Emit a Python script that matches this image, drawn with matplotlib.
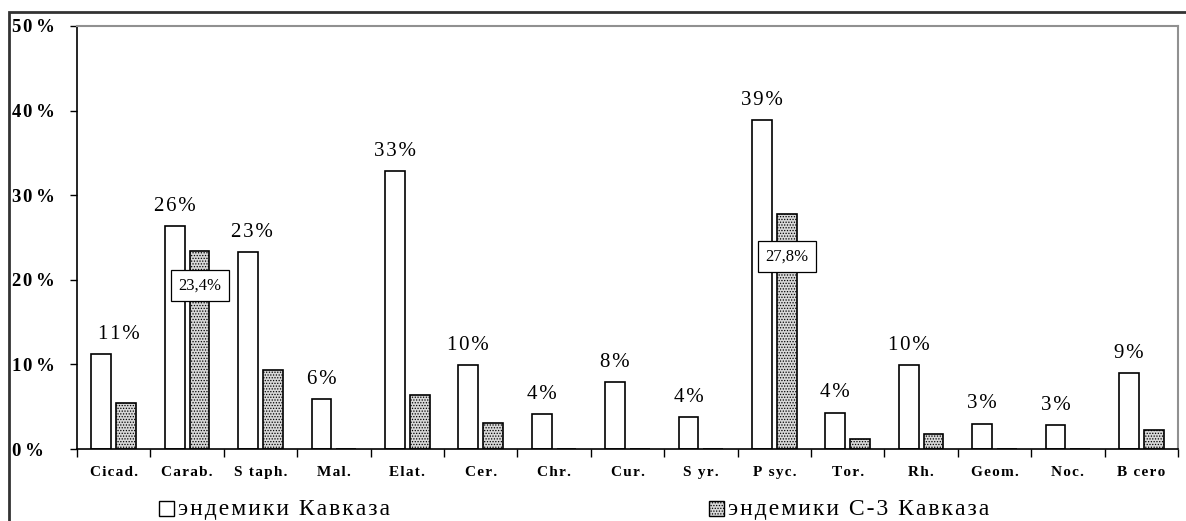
import numpy as np
import matplotlib.pyplot as plt
from matplotlib.patches import Rectangle

plt.rcParams['font.family'] = ['Liberation Serif', 'DejaVu Serif']
plt.rcParams['hatch.color'] = '#808080'
plt.rcParams['hatch.linewidth'] = 0.6

# Data
categories = ['Cicad.', 'Carab.', 'S taph.', 'Mal.', 'Elat.', 'Cer.', 'Chr.', 'Cur.',
              'S yr.', 'P syc.', 'Tor.', 'Rh.', 'Geom.', 'Noc.', 'B cero']
caucasus = [11.2, 26.4, 23.3, 5.9, 32.9, 9.9, 4.1, 7.9, 3.8, 38.9, 4.3, 9.9, 3.0, 2.8, 9.0]
nw_caucasus = [5.4, 23.4, 9.3, 0, 6.4, 3.1, 0, 0, 0, 27.8, 1.2, 1.8, 0, 0, 2.2]
top_labels = ['11%', '26%', '23%', '6%', '33%', '10%', '4%', '8%', '4%', '39%',
              '4%', '10%', '3%', '3%', '9%']
box_labels = {1: ('23,4%', 19.3), 9: ('27,8%', 22.7)}
yticks = [0, 10, 20, 30, 40, 50]
legend_names = ['эндемики Кавказа', 'эндемики С-3 Кавказа']

HAIR = '\u200a'


def spaced(s, sep=HAIR):
    # imitate the wide letter spacing of the original
    return sep.join(s)


fig = plt.figure(figsize=(11.86, 5.21), dpi=100)
# outer frame
fig.patches.append(Rectangle((9 / 1186, -0.1), 1.2, 1 - 12 / 521 + 0.1,
                             transform=fig.transFigure, fill=False,
                             edgecolor='#333333', linewidth=2.0))

ax = fig.add_axes([77 / 1186, 1 - 449 / 521, 1101 / 1186, 423 / 521])

x = np.arange(len(categories))
w = 0.27
gap = 0.035
ax.bar(x - w / 2 - gap, caucasus, w, color='white', edgecolor='black', linewidth=1.2)
ax.bar(x + w / 2 + gap, nw_caucasus, w, color='#d8d8d8', edgecolor='black',
       linewidth=1.2, hatch='......')

# label nudges (the first label sits a bit to the right in the original)
nudge = {0: 0.24, 2: 0.06}
for i, t in enumerate(top_labels):
    ax.text(x[i] - w / 2 - gap + nudge.get(i, 0), caucasus[i] + 1.2, spaced(t),
            ha='center', va='bottom', fontsize=15)

for i, (t, yv) in box_labels.items():
    ax.text(x[i] + w / 2 + gap, yv, t, ha='center', va='center', fontsize=12,
            bbox=dict(boxstyle='square,pad=0.45', facecolor='white',
                      edgecolor='black', linewidth=0.9))

ax.set_xlim(-0.5, len(categories) - 0.5)
ax.set_ylim(0, 50)
ax.set_yticks(yticks)
ax.set_yticklabels([spaced('%d' % v) + '\u2009%' for v in yticks],
                   fontweight='bold', fontsize=13.5)
for lab in ax.get_yticklabels():
    lab.set_horizontalalignment('left')
ax.tick_params(axis='y', direction='out', length=5, width=1, pad=42)
ax.set_xticks(np.arange(len(categories) + 1) - 0.5, minor=False)
ax.set_xticklabels([])
ax.set_xticks(x, minor=True)
ax.set_xticklabels([spaced(c) for c in categories], minor=True, fontweight='bold',
                   fontsize=11)
ax.tick_params(axis='x', which='major', direction='out', length=6, width=1)
ax.tick_params(axis='x', which='minor', length=0, pad=12)

ax.spines['left'].set_linewidth(1.2)
ax.spines['bottom'].set_linewidth(1.2)
ax.spines['top'].set_color('#909090')
ax.spines['right'].set_color('#909090')
ax.spines['top'].set_linewidth(1.5)
ax.spines['right'].set_linewidth(1.5)

# legend
fig.patches.append(Rectangle((159 / 1186, 1 - 516 / 521), 15 / 1186, 15 / 521,
                             transform=fig.transFigure, facecolor='white',
                             edgecolor='black', linewidth=1))
fig.text(178 / 1186, 1 - 509 / 521, spaced(legend_names[0]), fontsize=17,
         va='center', ha='left')
fig.patches.append(Rectangle((709 / 1186, 1 - 516 / 521), 15 / 1186, 15 / 521,
                             transform=fig.transFigure, facecolor='#d8d8d8',
                             edgecolor='black', linewidth=1, hatch='......'))
fig.text(728 / 1186, 1 - 509 / 521, spaced(legend_names[1]), fontsize=17,
         va='center', ha='left')

fig.savefig('out.png', dpi=100)
